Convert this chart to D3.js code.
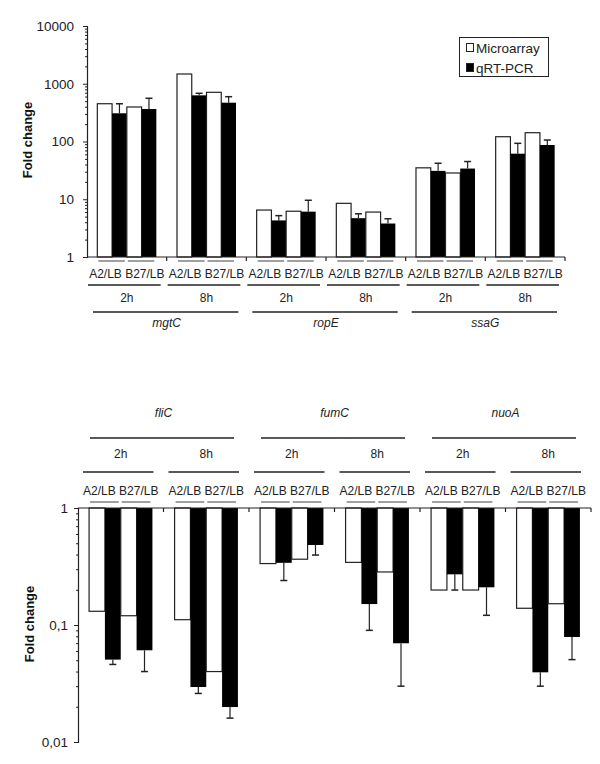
<!DOCTYPE html>
<html><head><meta charset="utf-8">
<script src="https://cdn.jsdelivr.net/npm/d3@7"></script>
<style>
body{margin:0;background:#fff;}
svg{display:block;font-family:"Liberation Sans",Arial,sans-serif;}
</style></head><body>
<svg id="c" width="600" height="764"></svg>
<script>
// ---------- data ----------
const times = ["2h", "8h"];
const conditions = ["A2/LB", "B27/LB"];
const series = ["Microarray", "qRT-PCR"];

const genesTop = ["mgtC", "ropE", "ssaG"];
// order: gene -> time -> condition
const microTop = [451, 396, 1475, 711, 6.5, 6.2, 8.5, 6.0, 35, 28.5, 121, 142];
const pcrTop = [308, 365, 630, 470, 4.3, 6.1, 4.7, 3.8, 31, 34, 61.5, 87];
const pcrTopErrEnd = [450, 560, 684, 597, 5.2, 9.6, 5.6, 4.6, 42, 45, 93, 106];
const yTicksTop = [1, 10, 100, 1000, 10000];

const genesBot = ["fliC", "fumC", "nuoA"];
const microBot = [0.131, 0.12, 0.111, 0.040, 0.335, 0.365, 0.343, 0.284, 0.199, 0.199, 0.139, 0.152];
const pcrBot = [0.0506, 0.0608, 0.0295, 0.0199, 0.34, 0.483, 0.151, 0.0698, 0.271, 0.21, 0.0394, 0.079];
const pcrBotErrEnd = [0.046, 0.040, 0.026, 0.016, 0.24, 0.396, 0.090, 0.030, 0.199, 0.121, 0.030, 0.0506];
const yTicksBot = [0.01, 0.1, 1];

// ---------- helpers ----------
const svg = d3.select("#c");
const commaLocale = d3.formatLocale({decimal: ",", thousands: ".", grouping: [3], currency: ["", ""]});

function buildRows(genes, micro, pcr, errEnd) {
  const rows = [];
  let i = 0;
  genes.forEach(g => times.forEach(t => conditions.forEach(c => {
    rows.push({gene: g, time: t, cond: c, micro: micro[i], pcr: pcr[i], err: errEnd[i]});
    i++;
  })));
  return rows;
}

function drawPanel(opt) {
  const {genes, rows, y, x0, x1, axisY, down, tickFmt, ticks, labelX, labelY, tickPad} = opt;
  const g = svg.append("g");
  const groupKeys = [];
  genes.forEach(ge => times.forEach(t => groupKeys.push(ge + "|" + t)));
  const xg = d3.scaleBand().domain(groupKeys).range([x0, x1]).paddingInner(0).paddingOuter(0);
  const subKeys = [];
  conditions.forEach(c => series.forEach(s => subKeys.push(c + "|" + s)));
  const xs = d3.scaleBand().domain(subKeys).range([0, xg.bandwidth()]).paddingInner(0).paddingOuter(0.7);

  const baseVal = down ? y.domain()[1] : y.domain()[0];
  const y0 = y(baseVal);

  // bars
  rows.forEach(r => {
    const gx = xg(r.gene + "|" + r.time);
    const xm = gx + xs(r.cond + "|Microarray");
    const xp = gx + xs(r.cond + "|qRT-PCR");
    const w = xs.bandwidth();
    const ym = y(r.micro), yp = y(r.pcr), ye = y(r.err);
    g.append("rect").attr("x", xm).attr("width", w)
      .attr("y", Math.min(ym, y0)).attr("height", Math.abs(y0 - ym))
      .attr("fill", "#fff").attr("stroke", "#222").attr("stroke-width", 1.2);
    g.append("rect").attr("x", xp).attr("width", w)
      .attr("y", Math.min(yp, y0)).attr("height", Math.abs(y0 - yp))
      .attr("fill", "#000");
    const cx = xp + w / 2;
    g.append("line").attr("x1", cx).attr("x2", cx).attr("y1", yp).attr("y2", ye)
      .attr("stroke", "#222").attr("stroke-width", 1.2);
    g.append("line").attr("x1", cx - 3.5).attr("x2", cx + 3.5).attr("y1", ye).attr("y2", ye)
      .attr("stroke", "#222").attr("stroke-width", 1.5);
  });

  // y axis
  const major = d3.axisLeft(y).tickValues(ticks).tickSize(4).tickPadding(tickPad).tickFormat(tickFmt);
  const minorVals = [];
  for (let k = 0; k < ticks.length - 1; k++) for (let m = 2; m <= 9; m++) minorVals.push(ticks[k] * m);
  const minor = d3.axisLeft(y).tickValues(minorVals).tickSize(2).tickFormat("");
  const ax = g.append("g").attr("transform", `translate(${x0},0)`).call(major);
  ax.select(".domain").attr("stroke", "#222").attr("stroke-width", 1.2);
  ax.selectAll(".tick line").attr("stroke", "#222");
  ax.selectAll("text").attr("font-size", 13.5).attr("fill", "#222")
    .attr("font-family", "'Liberation Sans', Arial, sans-serif");
  const mx = g.append("g").attr("transform", `translate(${x0},0)`).call(minor);
  mx.select(".domain").remove();
  mx.selectAll(".tick line").attr("stroke", "#222");

  // x axis line
  g.append("line").attr("x1", x0).attr("x2", x1).attr("y1", axisY).attr("y2", axisY)
    .attr("stroke", "#222").attr("stroke-width", 1.2);
  const bounds = groupKeys.map(k => xg(k)).concat([x1]).slice(1);
  bounds.forEach(bx => g.append("line").attr("x1", bx).attr("x2", bx)
    .attr("y1", axisY).attr("y2", axisY + 4).attr("stroke", "#222").attr("stroke-width", 1.2));

  // y label
  g.append("text").attr("transform", `translate(${labelX},${labelY}) rotate(-90)`)
    .attr("text-anchor", "middle").attr("font-size", 13).attr("font-weight", "bold")
    .attr("fill", "#111").text("Fold change");

  return {xg, xs};
}

function drawLabels(genes, xg, xs, L) {
  const g = svg.append("g").attr("fill", "#222").attr("font-size", 12);
  genes.forEach(ge => {
    times.forEach(t => {
      const gx = xg(ge + "|" + t), gw = xg.bandwidth();
      conditions.forEach(c => {
        const a = gx + xs(c + "|Microarray"), b = gx + xs(c + "|qRT-PCR") + xs.bandwidth();
        g.append("line").attr("x1", a + 1).attr("x2", b - 2).attr("y1", L.gray).attr("y2", L.gray)
          .attr("stroke", "#808080").attr("stroke-width", 1.5);
      });
      g.append("text").attr("x", gx + gw / 2).attr("y", L.cond).attr("text-anchor", "middle")
        .attr("xml:space", "preserve").text(conditions.join(" "));
      g.append("line").attr("x1", gx + L.tIn0).attr("x2", gx + gw - L.tIn1)
        .attr("y1", L.tLine).attr("y2", L.tLine).attr("stroke", "#222").attr("stroke-width", 1.3);
      g.append("text").attr("x", gx + gw / 2).attr("y", L.time).attr("text-anchor", "middle").text(t);
    });
    const a = xg(ge + "|" + times[0]), b = xg(ge + "|" + times[times.length - 1]) + xg.bandwidth();
    g.append("line").attr("x1", a + L.gIn0).attr("x2", b - L.gIn1)
      .attr("y1", L.gLine).attr("y2", L.gLine).attr("stroke", "#222").attr("stroke-width", 1.3);
    g.append("text").attr("x", (a + b) / 2).attr("y", L.gene).attr("text-anchor", "middle")
      .attr("font-style", "italic").text(ge);
  });
}

// ---------- top panel ----------
const yTop = d3.scaleLog().domain([1, 10000]).range([257, 26]);
const topPanel = drawPanel({
  genes: genesTop, rows: buildRows(genesTop, microTop, pcrTop, pcrTopErrEnd),
  y: yTop, x0: 87, x1: 565, axisY: 257, down: false,
  tickFmt: d3.format("d"), ticks: yTicksTop, labelX: 32, labelY: 140, tickPad: 9
});
drawLabels(genesTop, topPanel.xg, topPanel.xs, {
  gray: 261, cond: 278, tLine: 285, time: 302, gLine: 312, gene: 327,
  tIn0: 1, tIn1: 6, gIn0: 6, gIn1: 8
});

// legend
const leg = svg.append("g");
leg.append("rect").attr("x", 459.5).attr("y", 37.5).attr("width", 89).attr("height", 39)
  .attr("fill", "#fff").attr("stroke", "#222").attr("stroke-width", 1);
series.forEach((s, i) => {
  const yy = 43 + i * 20;
  leg.append("rect").attr("x", 466.5).attr("y", yy + 0.5).attr("width", 7).attr("height", 8)
    .attr("fill", i === 0 ? "#fff" : "#000").attr("stroke", "#222").attr("stroke-width", 1);
  leg.append("text").attr("x", 476).attr("y", yy + 10).attr("font-size", 13.5).attr("fill", "#222").text(s);
});

// ---------- bottom panel ----------
const yBot = d3.scaleLog().domain([0.01, 1]).range([742, 508]);
const botPanel = drawPanel({
  genes: genesBot, rows: buildRows(genesBot, microBot, pcrBot, pcrBotErrEnd),
  y: yBot, x0: 78, x1: 591, axisY: 508, down: true,
  tickFmt: commaLocale.format("~g"), ticks: yTicksBot, labelX: 34, labelY: 624, tickPad: 6
});
drawLabels(genesBot, botPanel.xg, botPanel.xs, {
  gray: 502, cond: 495, tLine: 472, time: 458, gLine: 438, gene: 417,
  tIn0: 5, tIn1: 10, gIn0: 12, gIn1: 15
});
</script>
</body></html>
